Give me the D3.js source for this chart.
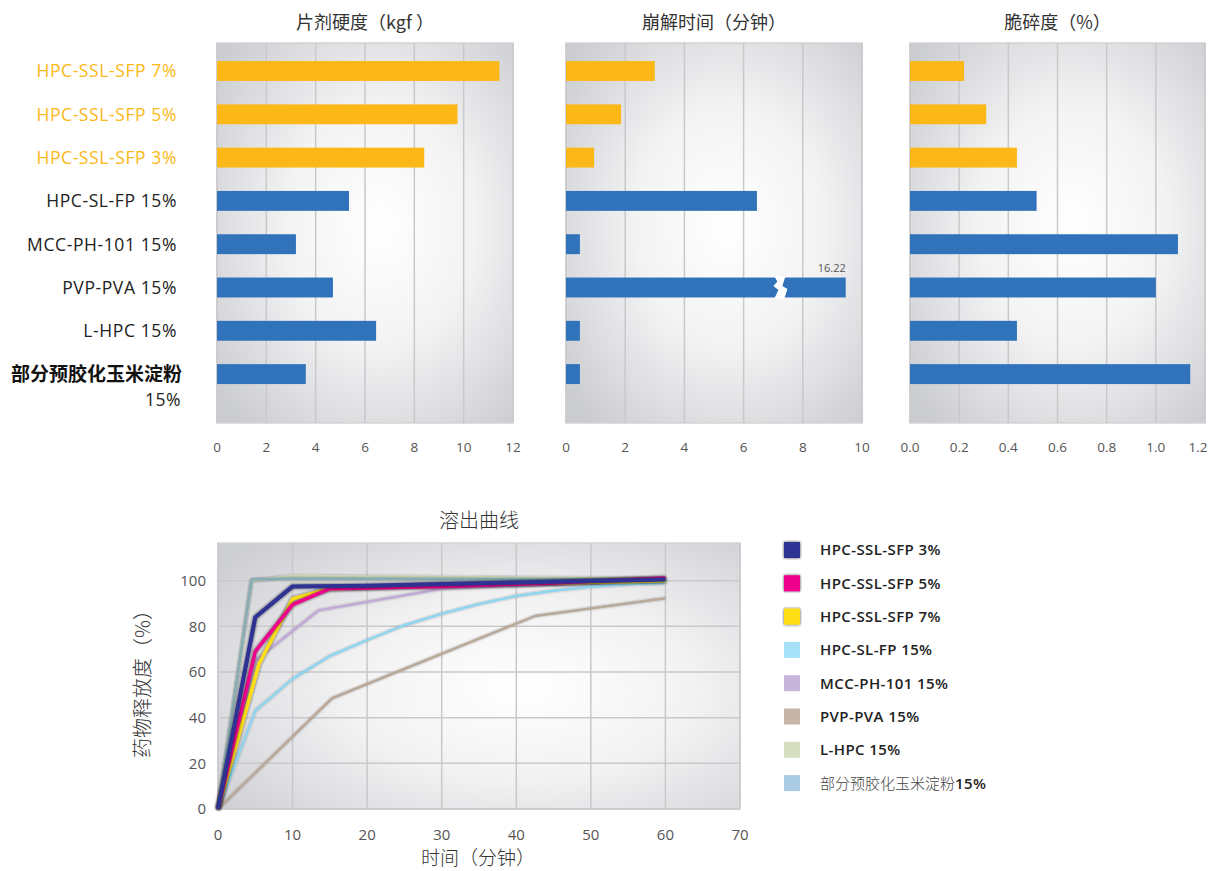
<!DOCTYPE html>
<html>
<head>
<meta charset="utf-8">
<script src="https://cdn.jsdelivr.net/npm/d3@7"></script>
<style>
    body { margin: 0; background: #ffffff; }
    text { font-family: "Open Sans", "Noto Sans CJK SC", sans-serif; }
    .cjk { font-family: "Noto Sans CJK SC", sans-serif; }
</style>
</head>
<body>
<div id="chart"></div>
<script>
// ---- bar panels data ----
var categories = ["HPC-SSL-SFP 7%", "HPC-SSL-SFP 5%", "HPC-SSL-SFP 3%", "HPC-SL-FP 15%",
    "MCC-PH-101 15%", "PVP-PVA 15%", "L-HPC 15%", "部分预胶化玉米淀粉 15%"];
var highlighted = [true, true, true, false, false, false, false, false];
var hardness = [11.45, 9.75, 8.4, 5.35, 3.2, 4.7, 6.45, 3.6];
var disintegration = [3.0, 1.86, 0.95, 6.45, 0.47, 16.22, 0.47, 0.47];
var friability = [0.22, 0.31, 0.435, 0.515, 1.09, 1.0, 0.435, 1.14];

var hardnessTicks = [0, 2, 4, 6, 8, 10, 12];
var disintegrationTicks = [0, 2, 4, 6, 8, 10];
var friabilityTicks = [0, 0.2, 0.4, 0.6, 0.8, 1.0, 1.2];
var disintegrationCap = 9.45;   // longer bars are drawn broken at this length

// ---- dissolution data: [minutes, % released] ----
var seriesNames = ["HPC-SSL-SFP 3%", "HPC-SSL-SFP 5%", "HPC-SSL-SFP 7%", "HPC-SL-FP 15%",
    "MCC-PH-101 15%", "PVP-PVA 15%", "L-HPC 15%", "部分预胶化玉米淀粉15%"];
var ssl3 = [[0, 0], [5, 84], [10, 97.5], [20, 97.8], [30, 98.5], [45, 99.5], [60, 100.5]];
var ssl5 = [[0, 0], [5, 69], [10, 89.5], [15, 96.5], [30, 97.5], [45, 99], [60, 101.2]];
var ssl7 = [[0, 0], [5.5, 63.5], [10, 92], [15, 96.5], [30, 98], [45, 99], [60, 100]];
var slfp = [[0, 0], [5, 43], [10, 57], [15, 67], [20, 74], [25, 80.5], [30, 85.5], [35, 89.8],
    [40, 93.3], [45, 95.6], [50, 97.3], [55, 98.4], [60, 99]];
var mcc = [[0, 0], [5, 65], [10, 78], [13.5, 87], [30, 96.5], [60, 100]];
var pvp = [[0, 0], [15.3, 48.5], [42.5, 84.5], [60, 92.3]];
var lhpc = [[0, 0], [4.5, 100], [10, 102], [60, 101]];
var starch = [[0, 0], [4.5, 100.5], [10, 101], [60, 100.5]];
var timeTicks = [0, 10, 20, 30, 40, 50, 60, 70];
var releaseTicks = [0, 20, 40, 60, 80, 100];

var ORANGE = "#fbb817", BLUE = "#3073ba";

var svg = d3.select("#chart").append("svg")
    .attr("width", 1212)
    .attr("height", 871);

var defs = svg.append("defs");

var grad = defs.append("radialGradient").attr("id", "bg").attr("cx", "55%").attr("cy", "48%").attr("r", "70%");
grad.append("stop").attr("offset", "0%").attr("stop-color", "#ffffff");
grad.append("stop").attr("offset", "45%").attr("stop-color", "#f3f3f4");
grad.append("stop").attr("offset", "100%").attr("stop-color", "#cbccd0");

var grad2 = defs.append("radialGradient").attr("id", "bg2").attr("cx", "58%").attr("cy", "55%").attr("r", "75%");
grad2.append("stop").attr("offset", "0%").attr("stop-color", "#ffffff");
grad2.append("stop").attr("offset", "45%").attr("stop-color", "#f2f2f3");
grad2.append("stop").attr("offset", "100%").attr("stop-color", "#cdced2");

function addShadow(id, dev, opacity) {
    var f = defs.append("filter").attr("id", id)
        .attr("x", "-10%").attr("y", "-10%").attr("width", "120%").attr("height", "120%");
    f.append("feGaussianBlur").attr("in", "SourceAlpha").attr("stdDeviation", dev).attr("result", "b");
    f.append("feComponentTransfer").attr("in", "b").attr("result", "s")
        .append("feFuncA").attr("type", "linear").attr("slope", opacity);
    var m = f.append("feMerge");
    m.append("feMergeNode").attr("in", "s");
    m.append("feMergeNode").attr("in", "SourceGraphic");
}
addShadow("glow", 1.8, 0.75);
addShadow("soft", 1.0, 0.35);

// ---- y labels (shared by the three bar panels) ----
var y = d3.scaleBand()
    .domain(categories)
    .range([49.35, 395.75])
    .paddingInner(0.54)
    .paddingOuter(0.27);

var labels = svg.append("g").attr("id", "labels");
categories.forEach(function (c, i) {
    var cy = y(c) + y.bandwidth() / 2;
    if (i === categories.length - 1) {
        labels.append("text").attr("class", "cjk")
            .attr("x", 182).attr("y", cy).attr("dy", "0.36em")
            .attr("text-anchor", "end")
            .attr("font-size", 19).attr("font-weight", 700).attr("fill", "#111")
            .text("部分预胶化玉米淀粉");
        labels.append("text")
            .attr("x", 181).attr("y", cy + 26).attr("dy", "0.36em")
            .attr("text-anchor", "end")
            .attr("font-size", 17.5).attr("letter-spacing", 0.5).attr("fill", "#222")
            .text("15%");
    } else {
        labels.append("text")
            .attr("x", 177).attr("y", cy).attr("dy", "0.36em")
            .attr("text-anchor", "end")
            .attr("font-size", 17.5).attr("letter-spacing", 0.6)
            .attr("fill", highlighted[i] ? ORANGE : "#222")
            .text(c);
    }
});

function barPanel(x0, x1, title, values, ticks, fmt, cap) {
    var x = d3.scaleLinear().domain([ticks[0], ticks[ticks.length - 1]]).range([x0, x1]);
    var g = svg.append("g");
    var top = 43, bottom = 423;

    g.append("rect")
        .attr("x", x0).attr("y", top)
        .attr("width", x1 - x0).attr("height", bottom - top)
        .attr("fill", "url(#bg)")
        .attr("stroke", "#d3d3d5").attr("stroke-width", 1.5);

    g.selectAll("line.grid")
        .data(ticks).enter().append("line")
        .attr("class", "grid")
        .attr("x1", function (d) { return x(d); })
        .attr("x2", function (d) { return x(d); })
        .attr("y1", top).attr("y2", bottom)
        .attr("stroke", "#c9c9cc").attr("stroke-width", 1.5);

    g.selectAll("rect.bar")
        .data(values).enter().append("rect")
        .attr("class", "bar")
        .attr("x", x0)
        .attr("y", function (d, i) { return y(categories[i]); })
        .attr("width", function (d) { return x(cap ? Math.min(d, cap) : d) - x0; })
        .attr("height", y.bandwidth())
        .attr("fill", function (d, i) { return highlighted[i] ? ORANGE : BLUE; });

    if (cap) {
        values.forEach(function (d, i) {
            if (d <= cap) return;
            var by = y(categories[i]), bh = y.bandwidth();
            var bx = x((ticks[0] + cap) * 0.77);
            // white zig-zag gap to mark the broken bar
            g.append("path")
                .attr("d", "M" + (bx - 7) + "," + (by - 1) +
                    "L" + (bx + 4) + "," + (by - 1) +
                    "L" + (bx + 1) + "," + (by + bh * 0.42) +
                    "L" + (bx + 6) + "," + (by + bh * 0.58) +
                    "L" + (bx + 3) + "," + (by + bh + 1) +
                    "L" + (bx - 7) + "," + (by + bh + 1) +
                    "L" + (bx - 3) + "," + (by + bh * 0.62) +
                    "L" + (bx - 8) + "," + (by + bh * 0.42) +
                    "L" + (bx - 4) + "," + (by + bh * 0.2) + "Z")
                .attr("fill", "#ffffff");
            g.append("text")
                .attr("x", x(cap)).attr("y", by - 6)
                .attr("text-anchor", "end")
                .attr("font-size", 11).attr("fill", "#555")
                .text(d3.format(".2f")(d));
        });
    }

    g.selectAll("text.tick")
        .data(ticks).enter().append("text")
        .attr("class", "tick")
        .attr("x", function (d) { return Math.min(x(d), 1198); })
        .attr("y", 452)
        .attr("text-anchor", "middle")
        .attr("font-size", 13.5).attr("fill", "#555")
        .text(fmt);

    g.append("text").attr("class", "cjk")
        .attr("x", (x0 + x1) / 2).attr("y", 29)
        .attr("text-anchor", "middle")
        .attr("font-size", 18).attr("fill", "#333")
        .text(title);
}

barPanel(217, 513, "片剂硬度（kgf ）", hardness, hardnessTicks, d3.format("d"), null);
barPanel(566, 862, "崩解时间（分钟）", disintegration, disintegrationTicks, d3.format("d"), disintegrationCap);
barPanel(910, 1205, "脆碎度（%）", friability, friabilityTicks, d3.format(".1f"), null);

// ---- dissolution chart ----
var lx = d3.scaleLinear().domain([0, 70]).range([218, 740]);
var ly = d3.scaleLinear().domain([0, 116.5]).range([809, 543]);

var lg = svg.append("g").attr("id", "dissolution");
lg.append("rect")
    .attr("x", 218).attr("y", 543)
    .attr("width", 740 - 218).attr("height", 809 - 543)
    .attr("fill", "url(#bg2)")
    .attr("stroke", "#d3d3d5").attr("stroke-width", 1.5);

lg.selectAll("line.vgrid")
    .data(timeTicks).enter().append("line")
    .attr("x1", function (d) { return lx(d); }).attr("x2", function (d) { return lx(d); })
    .attr("y1", 543).attr("y2", 809)
    .attr("stroke", "#c9c9cc").attr("stroke-width", 1.5);
lg.selectAll("line.hgrid")
    .data(releaseTicks).enter().append("line")
    .attr("x1", 218).attr("x2", 740)
    .attr("y1", function (d) { return ly(d); }).attr("y2", function (d) { return ly(d); })
    .attr("stroke", "#c9c9cc").attr("stroke-width", 1.5);

lg.selectAll("text.xt")
    .data(timeTicks).enter().append("text")
    .attr("x", function (d) { return lx(d); }).attr("y", 840)
    .attr("text-anchor", "middle").attr("font-size", 15).attr("fill", "#555")
    .attr("font-family", "Lato, sans-serif")
    .text(function (d) { return d; });
lg.selectAll("text.yt")
    .data(releaseTicks).enter().append("text")
    .attr("x", 206).attr("y", function (d) { return ly(d); }).attr("dy", "0.36em")
    .attr("text-anchor", "end").attr("font-size", 15).attr("fill", "#555")
    .attr("font-family", "Lato, sans-serif")
    .text(function (d) { return d; });

svg.append("text").attr("class", "cjk")
    .attr("x", 479).attr("y", 528).attr("text-anchor", "middle")
    .attr("font-size", 20).attr("font-weight", 300).attr("fill", "#333")
    .text("溶出曲线");
svg.append("text").attr("class", "cjk")
    .attr("x", 478).attr("y", 865).attr("text-anchor", "middle")
    .attr("font-size", 19).attr("font-weight", 300).attr("fill", "#333")
    .text("时间（分钟）");
svg.append("text").attr("class", "cjk")
    .attr("transform", "translate(150,679)rotate(-90)")
    .attr("text-anchor", "middle")
    .attr("font-size", 20).attr("font-weight", 300).attr("fill", "#333")
    .text("药物释放度（%）");

var lineSeries = [
    {name: seriesNames[6], data: lhpc, color: "#cfd8b4", width: 2.5, key: "#d6dfc0", shadow: false},
    {name: seriesNames[7], data: starch, color: "#86adb3", width: 2.5, key: "#a9cce4", shadow: false},
    {name: seriesNames[5], data: pvp, color: "#b8a99b", width: 2.5, key: "#c5b6a8", shadow: false},
    {name: seriesNames[4], data: mcc, color: "#c2a8d6", width: 2.5, key: "#c7b4d9", shadow: false},
    {name: seriesNames[3], data: slfp, color: "#8fd5f0", width: 2.5, key: "#a6e1f7", shadow: false},
    {name: seriesNames[2], data: ssl7, color: "#ffde17", width: 3.5, key: "#ffde17", shadow: true},
    {name: seriesNames[1], data: ssl5, color: "#ec008c", width: 3.5, key: "#ec008c", shadow: true},
    {name: seriesNames[0], data: ssl3, color: "#2e3192", width: 4, key: "#2e3192", shadow: true}
];

var line = d3.line()
    .x(function (d) { return lx(d[0]); })
    .y(function (d) { return ly(d[1]); });

lineSeries.forEach(function (s) {
    lg.append("path")
        .datum(s.data)
        .attr("d", line)
        .attr("fill", "none")
        .attr("stroke", s.color)
        .attr("stroke-width", s.width)
        .attr("stroke-linejoin", "round")
        .attr("filter", s.shadow ? "url(#glow)" : "url(#soft)");
});

// ---- legend (order as in the picture) ----
var legend = svg.append("g").attr("id", "legend");
var legendOrder = seriesNames.map(function (n) {
    return lineSeries.filter(function (s) { return s.name === n; })[0];
});
legendOrder.forEach(function (s, i) {
    var cy = 550 + i * 33.3;
    legend.append("rect")
        .attr("x", 784).attr("y", cy - 8)
        .attr("width", 16).attr("height", 16)
        .attr("fill", s.key)
        .attr("filter", s.shadow ? "url(#glow)" : null);
    var t = legend.append("text")
        .attr("x", 820).attr("y", cy).attr("dy", "0.36em")
        .attr("font-size", 15).attr("fill", "#222").attr("letter-spacing", 0.4)
        .attr("font-family", "Open Sans, sans-serif").attr("font-weight", 600);
    if (s.name.indexOf("部分") === 0) {
        t.append("tspan").attr("font-family", "Noto Sans CJK SC, sans-serif")
            .attr("font-weight", 300).attr("letter-spacing", 0).attr("fill", "#444").text("部分预胶化玉米淀粉");
        t.append("tspan").text("15%");
    } else {
        t.text(s.name);
    }
});
</script>
</body>
</html>
